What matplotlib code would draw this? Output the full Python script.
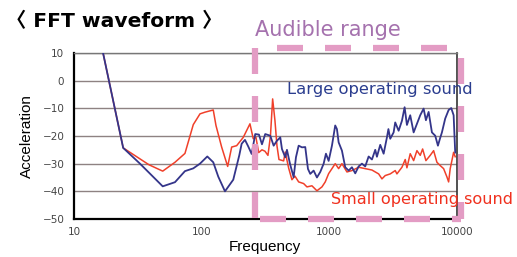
import matplotlib
matplotlib.use("Agg")
import matplotlib.pyplot as plt
from matplotlib.lines import Line2D

# ---- data ----
large_freq = [16.9, 24.3, 32.9, 49.6, 61.9, 74.1, 86.1, 97.2, 110.9, 123.5, 135.2, 152.6,
              177.2, 197.5, 206.2, 218.9, 232.3, 247.0, 263.5, 281.8, 297.5, 315.6, 345.5,
              367.4, 389.9, 414.0, 426.7, 452.9, 467.0, 493.0, 527.0, 549.4, 576.8, 612.2,
              649.8, 682.3, 711.2, 755.9, 802.4, 852.0, 905.8, 944.0, 991.1, 1052, 1116,
              1151, 1187, 1260, 1337, 1422, 1509, 1602, 1703, 1808, 1918, 2040, 2165, 2298,
              2369, 2515, 2674, 2838, 2915, 3012, 3202, 3296, 3505, 3721, 3905, 4071, 4321,
              4595, 4877, 5176, 5503, 5736, 6023, 6393, 6785, 7124, 7386, 7656, 8124, 8641,
              9056, 9456, 9732]
large_db = [10, -24.3, -30, -38.2, -36.7, -32.7, -31.7, -30, -27.4, -29.5, -34.7, -40,
            -35.8, -27, -22.8, -21.4, -23.8, -26.5, -19.3, -19.5, -23, -19.3, -19.9,
            -23.5, -21.7, -20.5, -24.7, -27.7, -25, -30, -34.9, -27.7, -23.5, -24.1,
            -24, -31.9, -33.7, -32.5, -35, -33, -30, -26.4, -29, -23.5, -16.2,
            -17.5, -22.3, -25.3, -31.3, -32.5, -31.3, -33.5, -31, -30, -31, -27.4, -28.5, -25,
            -27.5, -23.2, -26.4, -20.5, -17.5, -21, -18.7, -15.1, -18.1, -14.5, -9.6, -16, -12.5,
            -18.7, -15.6, -12.5, -10.1, -14.3, -11.3, -18.7, -19.9, -23.5, -21, -18.7, -13.7, -10.6,
            -9.9, -12.5, -26]

small_freq = [16.9, 24.3, 38.7, 49.6, 61.9, 74.1, 86.1, 97.2, 106.3, 123.5, 129.7, 143.7,
              160.2, 172.2, 188.4, 212.3, 239.5, 254.2, 266.9, 280.3, 297.5, 314.0, 331.4,
              346.7, 360.7, 376.0, 389.9, 404.4, 440.0, 452.9, 481.6, 510.9, 539.5, 576.8,
              631.2, 669.9, 733.1, 802.4, 878.5, 932.0, 991.1, 1052, 1116, 1187, 1260, 1379,
              1509, 1703, 1918, 2165, 2443, 2594, 2752, 3012, 3296, 3398, 3721, 3948, 4071,
              4321, 4595, 4877, 5176, 5405, 5736, 6199, 6592, 6995, 7427, 7894, 8380, 8641,
              8892, 9456, 9732]
small_db = [10, -24.3, -30.4, -32.7, -29.5, -26.3, -15.9, -12, -11.4, -10.6, -16.2, -24,
            -31, -24, -23.5, -20.5, -15.6, -21, -20.5, -26, -25, -25.5, -27,
            -20, -6.6, -14.4, -23.5, -28.5, -29, -25.8, -31.6, -35.8, -34.5, -36.6,
            -37.2, -38.4, -38, -39.8, -38.4, -36.6, -33.6, -31.8, -30, -31.8, -30, -33,
            -32.5, -31.3, -31.8, -32.3, -33.7, -35.5, -34.3, -33.7, -32.5, -33.7, -31.3, -28.5, -31.5,
            -26.4, -28.9, -25.3, -27, -24.7, -28.9, -27, -25.3, -29.5, -30.7, -31.8, -34.8, -36.6,
            -31.8, -25.9, -27.5]

y_ticks = [-50, -40, -30, -20, -10, 0, 10]
x_ticks = [10, 100, 1000, 10000]
x_labels = ["10", "100", "1000", "10000"]

# ---- figure ----
W, H = 517, 257
fig = plt.figure(figsize=(W / 100, H / 100), dpi=100)
fig.patch.set_facecolor("white")
ax = fig.add_axes([0.1431, 0.1479, 0.7403, 0.6459])

ax.plot(large_freq, large_db, color="#34358a", lw=1.3, zorder=3)
ax.plot(small_freq, small_db, color="#f0402a", lw=1.1, zorder=2)

ax.set_xscale("log")
ax.set_xlim(10, 10000)
ax.set_ylim(-50, 10)
ax.set_yticks(y_ticks)
ax.set_xticks(x_ticks)
ax.set_xticklabels(x_labels)
ax.minorticks_off()
ax.yaxis.grid(True, color="#8e8282", lw=1.0)
ax.set_axisbelow(True)
ax.tick_params(axis="both", length=0, labelsize=7.5, labelcolor="#444444")
ax.tick_params(axis="y", pad=7)
ax.tick_params(axis="x", pad=6)
for s in ["left", "bottom"]:
    ax.spines[s].set_linewidth(1.6)
    ax.spines[s].set_color("black")
ax.spines["right"].set_linewidth(1.2)
ax.spines["right"].set_color("#333333")
ax.spines["top"].set_linewidth(1.0)
ax.spines["top"].set_color("#777777")

ax.set_xlabel("Frequency", fontsize=11, family="Liberation Sans", labelpad=2)
ax.set_ylabel("Acceleration", fontsize=11, family="Liberation Sans", labelpad=6)

# title
fig.text(0.012, 0.916, "〈 FFT waveform 〉", fontsize=14.6, fontweight="bold",
         family=["DejaVu Sans", "Noto Sans CJK JP"], va="center", ha="left")
fig.text(0.494, 0.885, "Audible range", fontsize=15, color="#a572ae",
         family="DejaVu Sans", va="center", ha="left")

# audible range dashed box (each side drawn separately)
pink = "#e39cc4"
lw_box = 4.5
u = 0.72 / lw_box          # pixel -> dash units
dash = (26 * u, 22 * u)
bx0, bx1, by0, by1 = 255 / W, 461 / W, 1 - 48 / H, 1 - 219 / H
sides = [
    ([bx0, bx0], [by0, by1], 0),          # left, top -> bottom
    ([bx0, bx1], [by0, by0], 26 * u),     # top, left -> right
    ([bx0, bx1], [by1, by1], 43 * u),     # bottom, left -> right
    ([bx1, bx1], [by0, by1], 38 * u),     # right, top -> bottom
]
for xs, ys, off in sides:
    fig.lines.append(Line2D(xs, ys, transform=fig.transFigure, color=pink, lw=lw_box,
                            linestyle=(off, dash), solid_capstyle="butt",
                            dash_capstyle="butt", zorder=5))

fig.text(0.556, 0.65, "Large operating sound", fontsize=11.8, color="#2b3d8f",
         family="DejaVu Sans", va="center", ha="left", zorder=6)
fig.text(0.641, 0.222, "Small operating sound", fontsize=11.6, color="#f0301e",
         family="DejaVu Sans", va="center", ha="left", zorder=6)

fig.savefig("out.png", dpi=100, facecolor="white")
